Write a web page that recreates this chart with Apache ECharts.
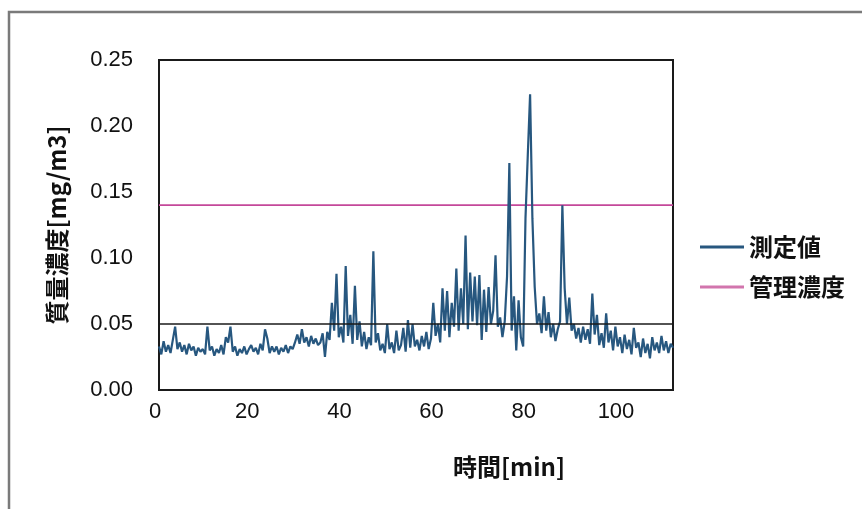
<!DOCTYPE html>
<html>
<head>
<meta charset="utf-8">
<script src="https://cdn.jsdelivr.net/npm/echarts@6/dist/echarts.min.js"></script>
<style>
html,body{margin:0;padding:0;background:#fff;}
#chart{width:862px;height:509px;}
</style>
</head>
<body>
<div id="chart"></div>
<script>
// time step of the measured series (minutes), first sample at 0 min
const timeStep = 0.5;
// 測定値 [mg/m3], one value every 0.5 min from 0 to 111.5 min
const measured = [
  0.033,0.027,0.037,0.029,0.034,0.028,0.038,0.048,0.031,0.036,
  0.029,0.034,0.027,0.035,0.030,0.033,0.026,0.032,0.029,0.031,
  0.027,0.048,0.030,0.033,0.026,0.031,0.028,0.034,0.027,0.040,
  0.036,0.048,0.029,0.033,0.026,0.031,0.028,0.033,0.027,0.031,
  0.034,0.029,0.032,0.027,0.035,0.030,0.046,0.039,0.028,0.033,
  0.029,0.033,0.027,0.032,0.029,0.034,0.028,0.033,0.031,0.036,
  0.042,0.035,0.046,0.036,0.040,0.033,0.041,0.035,0.039,0.034,
  0.036,0.043,0.025,0.044,0.038,0.066,0.045,0.088,0.040,0.048,
  0.036,0.094,0.041,0.057,0.035,0.079,0.038,0.052,0.033,0.044,
  0.031,0.040,0.034,0.105,0.036,0.043,0.030,0.035,0.028,0.050,
  0.031,0.036,0.028,0.045,0.030,0.034,0.047,0.029,0.053,0.032,
  0.050,0.033,0.038,0.030,0.041,0.033,0.044,0.031,0.039,0.066,
  0.041,0.050,0.036,0.077,0.045,0.075,0.040,0.066,0.048,0.092,
  0.045,0.077,0.050,0.117,0.046,0.089,0.052,0.086,0.049,0.087,
  0.038,0.076,0.044,0.078,0.050,0.060,0.102,0.048,0.055,0.040,
  0.052,0.086,0.172,0.045,0.071,0.030,0.068,0.040,0.033,0.130,
  0.178,0.224,0.130,0.078,0.050,0.058,0.043,0.071,0.045,0.059,
  0.040,0.050,0.037,0.046,0.052,0.140,0.077,0.050,0.070,0.045,
  0.050,0.039,0.047,0.036,0.048,0.038,0.046,0.035,0.073,0.042,
  0.057,0.034,0.043,0.032,0.058,0.036,0.045,0.030,0.048,0.033,
  0.040,0.028,0.042,0.031,0.038,0.027,0.047,0.032,0.036,0.025,
  0.039,0.028,0.035,0.024,0.040,0.030,0.036,0.028,0.041,0.030,
  0.037,0.028,0.035,0.032
];
// 管理濃度 (control concentration) [mg/m3]
const controlLevel = 0.14;
// reference line drawn in black [mg/m3]
const referenceLine = 0.05;
// axis ranges / ticks
const xRange = [0, 111.5];
const xInterval = 20;
const yRange = [0, 0.25];
const yInterval = 0.05;
const seriesNames = ['測定値', '管理濃度'];
const axisTitles = { x: '時間[min]', y: '質量濃度[mg/m3]' };

const measuredData = measured.map((v, i) => [i * timeStep, v]);
const controlData = [[xRange[0], controlLevel], [xRange[1], controlLevel]];

const cjk = '"Noto Sans CJK JP", "Noto Sans", sans-serif';
const num = '"Liberation Sans", Arial, sans-serif';

const chart = echarts.init(document.getElementById('chart'), null, { renderer: 'canvas' });
chart.setOption({
  backgroundColor: '#ffffff',
  animation: false,
  grid: {
    left: 159, right: 189, top: 60, bottom: 119,
    show: true, borderColor: '#1a1a1a', borderWidth: 2, backgroundColor: 'transparent'
  },
  legend: {
    orient: 'vertical',
    left: 695, top: 230,
    itemWidth: 44, itemHeight: 3, itemGap: 16,
    icon: 'rect',
    data: seriesNames,
    textStyle: { fontFamily: cjk, fontSize: 24, fontWeight: 'bold', color: '#111' }
  },
  xAxis: {
    type: 'value',
    min: xRange[0], max: xRange[1], interval: xInterval,
    axisLine: { show: false },
    axisTick: { show: false },
    splitLine: { show: false },
    axisLabel: {
      showMaxLabel: false,
      margin: 11,
      padding: [0, 8, 0, 0],
      fontFamily: num, fontSize: 22, color: '#111'
    }
  },
  yAxis: {
    type: 'value',
    min: yRange[0], max: yRange[1], interval: yInterval,
    name: axisTitles.y,
    nameLocation: 'middle',
    nameGap: 90,
    nameTextStyle: { fontFamily: cjk, fontSize: 24, fontWeight: 'bold', color: '#111' },
    axisLine: { show: false },
    axisTick: { show: false },
    splitLine: { show: false },
    axisLabel: {
      margin: 26,
      formatter: v => v.toFixed(2),
      fontFamily: num, fontSize: 22, color: '#111'
    }
  },
  graphic: [
    {
      type: 'rect', silent: true, z: -1,
      shape: { x: 9, y: 12, width: 900, height: 600 },
      style: { fill: 'none', stroke: '#7a7a7a', lineWidth: 2.5 }
    },
    {
      type: 'text', left: 453, top: 455,
      style: { text: axisTitles.x, font: 'bold 24px "Noto Sans CJK JP", sans-serif', fill: '#111' }
    }
  ],
  series: [
    {
      name: seriesNames[0],
      type: 'line',
      data: measuredData,
      showSymbol: false,
      symbol: 'none',
      lineStyle: { color: '#27577f', width: 2.2 },
      itemStyle: { color: '#27577f' },
      markLine: {
        silent: true,
        symbol: 'none',
        label: { show: false },
        lineStyle: { color: '#1a1a1a', width: 1.5, type: 'solid' },
        data: [{ yAxis: referenceLine }]
      },
      z: 3
    },
    {
      name: seriesNames[1],
      type: 'line',
      data: controlData,
      showSymbol: false,
      symbol: 'none',
      lineStyle: { color: '#c4489a', width: 1.8 },
      itemStyle: { color: '#d275ad' },
      z: 2
    }
  ]
});
</script>
</body>
</html>
